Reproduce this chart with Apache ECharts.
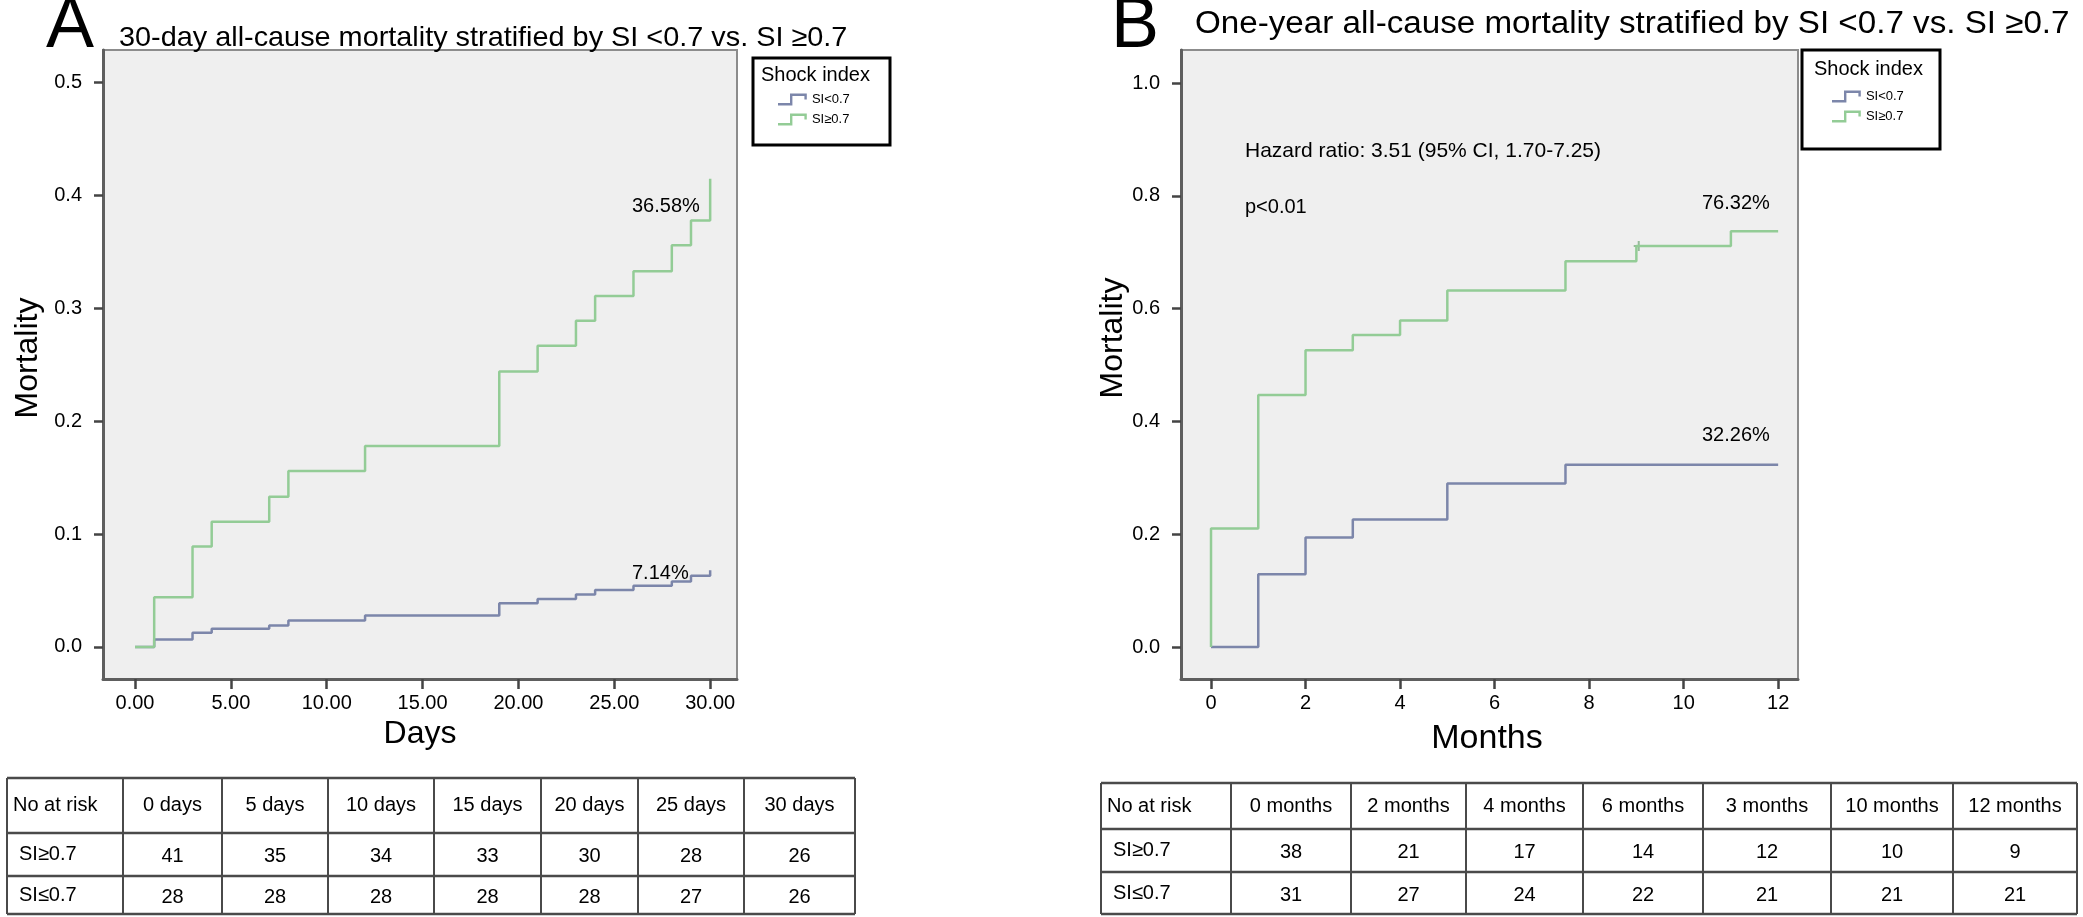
<!DOCTYPE html>
<html><head><meta charset="utf-8">
<script src="https://cdn.jsdelivr.net/npm/echarts@6/dist/echarts.min.js"></script>
<style>html,body{margin:0;padding:0;background:#fff}#c{width:2083px;height:917px}</style>
</head><body><div id="c"></div>
<script>
// ---------- data ----------
const seriesNames = ['SI<0.7', 'SI\u22650.7'];
const daysTicks = [0, 5, 10, 15, 20, 25, 30];
const monthsTicks = [0, 2, 4, 6, 8, 10, 12];
const mortTicksA = [0, 0.1, 0.2, 0.3, 0.4, 0.5];
const mortTicksB = [0, 0.2, 0.4, 0.6, 0.8, 1.0];

// Panel A: 30-day
const aDaysLow  = [0, 1, 3, 4, 7, 8, 12, 19, 21, 23, 24, 26, 28, 29, 30];
const aMortLow  = [0, 0.0065, 0.0126, 0.0161, 0.019, 0.0235, 0.0279, 0.0387, 0.0425, 0.0464, 0.0505, 0.0543, 0.058, 0.063, 0.068];
const aDaysHigh = [0, 1, 3, 4, 7, 8, 12, 19, 21, 23, 24, 26, 28, 29, 30];
const aMortHigh = [0, 0.044, 0.089, 0.111, 0.133, 0.156, 0.178, 0.244, 0.267, 0.289, 0.311, 0.333, 0.356, 0.378, 0.415];

// Panel B: one-year
const bMonthsLow  = [0, 1, 2, 3, 5, 7.5, 12];
const bMortLow    = [0, 0.129, 0.194, 0.226, 0.290, 0.323, 0.323];
const bMonthsHigh = [0, 0, 1, 2, 3, 4, 5, 7.5, 9, 11, 12];
const bMortHigh   = [0, 0.21, 0.447, 0.526, 0.553, 0.579, 0.632, 0.684, 0.711, 0.737, 0.737];
const bCensorMonths = [9.05];
const bCensorMort   = [0.711];

// annotations
const aLabelHigh = '36.58%';
const aLabelLow = '7.14%';
const bLabelHigh = '76.32%';
const bLabelLow = '32.26%';
const bHazard = 'Hazard ratio: 3.51 (95% CI, 1.70-7.25)';
const bP = 'p<0.01';

// number-at-risk tables
const tableAHeader = ['No at risk', '0 days', '5 days', '10 days', '15 days', '20 days', '25 days', '30 days'];
const tableARowNames = ['SI\u22650.7', 'SI\u22640.7'];
const tableARowHigh = [41, 35, 34, 33, 30, 28, 26];
const tableARowLow  = [28, 28, 28, 28, 28, 27, 26];
const tableBHeader = ['No at risk', '0 months', '2 months', '4 months', '6 months', '3 months', '10 months', '12 months'];
const tableBRowNames = ['SI\u22650.7', 'SI\u22640.7'];
const tableBRowHigh = [38, 21, 17, 14, 12, 10, 9];
const tableBRowLow  = [31, 27, 24, 22, 21, 21, 21];

// ---------- layout / style ----------
const FF = "'Liberation Sans', Arial, Helvetica, sans-serif";
const GREEN = '#93cc96';
const BLUE = '#7c86aa';
const zip = (xs, ys) => xs.map((x, i) => [x, ys[i]]);

const chart = echarts.init(document.getElementById('c'), null, {renderer: 'canvas'});

function makeAxes(gi, xmin, xmax, xt, xfmt, ymin, ymax, yt) {
  const x = {
    type: 'value', gridIndex: gi, min: xmin, max: xmax,
    axisLine: {show: true, onZero: false, lineStyle: {color: '#5e5e5e', width: 3}},
    axisTick: {show: true, customValues: xt, length: 10, lineStyle: {color: '#444', width: 2.5}},
    axisLabel: {customValues: xt, formatter: xfmt, color: '#000', fontSize: 20, fontFamily: FF, margin: 14},
    splitLine: {show: false}
  };
  const y = {
    type: 'value', gridIndex: gi, min: ymin, max: ymax,
    axisLine: {show: true, onZero: false, lineStyle: {color: '#5e5e5e', width: 3}},
    axisTick: {show: true, customValues: yt, length: 9, lineStyle: {color: '#444', width: 2.5}},
    axisLabel: {customValues: yt, formatter: v => v.toFixed(1), color: '#000', fontSize: 20, fontFamily: FF, margin: 21},
    splitLine: {show: false}
  };
  return [x, y];
}

const [xA, yA] = makeAxes(0, -1.67, 31.4, daysTicks, v => v.toFixed(2), -0.0284, 0.529, mortTicksA);
const [xB, yB] = makeAxes(1, -0.635, 12.42, monthsTicks, v => String(Math.round(v)), -0.0567, 1.0585, mortTicksB);

const stepPath = 'path://M0,9 H10 V1 H24 V6 H22 V3 H12 V11 H0 Z';

function txt(x, y, text, size, opts) {
  opts = opts || {};
  return {
    type: 'text', x: x, y: y, rotation: opts.rotation || 0, silent: true,
    scaleX: opts.scaleX || 1,
    style: {text: text, fill: '#000', fontSize: size, fontFamily: FF,
      align: opts.align || 'left', verticalAlign: opts.va || 'middle'}
  };
}

function table(cols, rows, header, rowNames, rowVals) {
  const els = [];
  const lc = '#4a4a4a';
  rows.forEach(r => els.push({type: 'line', silent: true, shape: {x1: cols[0], y1: r, x2: cols[cols.length - 1], y2: r}, style: {stroke: lc, lineWidth: 2.5}}));
  cols.forEach(c => els.push({type: 'line', silent: true, shape: {x1: c, y1: rows[0], x2: c, y2: rows[rows.length - 1]}, style: {stroke: lc, lineWidth: 2}}));
  const cy = i => (rows[i] + rows[i + 1]) / 2;
  header.forEach((h, j) => {
    if (j === 0) els.push(txt(cols[0] + 6, cy(0), h, 20));
    else els.push(txt((cols[j] + cols[j + 1]) / 2, cy(0), h, 20, {align: 'center'}));
  });
  rowVals.forEach((vals, i) => {
    els.push(txt(cols[0] + 12, cy(i + 1), rowNames[i], 20));
    vals.forEach((v, j) => els.push(txt((cols[j + 1] + cols[j + 2]) / 2, cy(i + 1) + 2, String(v), 20, {align: 'center'})));
  });
  return els;
}

function legendBox(x, y, w, h, titleX, titleY) {
  return [
    {type: 'rect', silent: true, shape: {x: x, y: y, width: w, height: h}, style: {fill: '#fff', stroke: '#000', lineWidth: 3}, z: -1},
    txt(titleX, titleY, 'Shock index', 20)
  ];
}

const graphics = [].concat(
  legendBox(753, 58, 137, 87, 761, 75),
  legendBox(1802, 50, 138, 99, 1814, 69),
  [txt(46, 27, 'A', 72), txt(119, 38, '30-day all-cause mortality stratified by SI <0.7 vs. SI \u22650.7', 28, {scaleX: 1.03})],
  [txt(1111, 27, 'B', 72), txt(1195, 24, 'One-year all-cause mortality stratified by SI <0.7 vs. SI \u22650.7', 31, {scaleX: 1.07})],
  [txt(28, 358, 'Mortality', 32, {rotation: Math.PI / 2, align: 'center'}),
   txt(420, 734, 'Days', 32, {align: 'center'}),
   txt(1113, 338, 'Mortality', 32, {rotation: Math.PI / 2, align: 'center'}),
   txt(1487, 739, 'Months', 34, {align: 'center'}),
   txt(632, 206, aLabelHigh, 20), txt(632, 573, aLabelLow, 20),
   txt(1702, 203, bLabelHigh, 20), txt(1702, 435, bLabelLow, 20),
   txt(1245, 151, bHazard, 21), txt(1245, 207, bP, 20)],
  table([7, 123, 222, 328, 434, 541, 638, 744, 855], [778, 833, 876, 914], tableAHeader, tableARowNames, [tableARowHigh, tableARowLow]),
  table([1101, 1231, 1351, 1466, 1583, 1703, 1831, 1953, 2077], [783, 829, 872, 914], tableBHeader, tableBRowNames, [tableBRowHigh, tableBRowLow])
);

function legendCfg(left, top) {
  return {
    data: seriesNames, orient: 'vertical', left: left, top: top, itemWidth: 33, itemHeight: 12, itemGap: 7,
    icon: stepPath, selectedMode: false, padding: 0,
    textStyle: {fontSize: 13, fontFamily: FF, color: '#000', padding: [0, 0, 0, -2]}
  };
}

const option = {
  animation: false,
  backgroundColor: '#fff',
  grid: [
    {left: 103, top: 50, width: 634, height: 629, show: true, backgroundColor: '#efefef', borderColor: '#8c8c8c', borderWidth: 2},
    {left: 1181, top: 50, width: 617, height: 629, show: true, backgroundColor: '#efefef', borderColor: '#8c8c8c', borderWidth: 2}
  ],
  xAxis: [xA, xB],
  yAxis: [yA, yB],
  legend: [legendCfg(778, 93), legendCfg(1832, 90)],
  series: [
    {name: seriesNames[0], type: 'line', xAxisIndex: 0, yAxisIndex: 0, step: 'end', showSymbol: false, data: zip(aDaysLow, aMortLow), lineStyle: {color: BLUE, width: 2.5}, itemStyle: {color: BLUE}},
    {name: seriesNames[1], type: 'line', xAxisIndex: 0, yAxisIndex: 0, step: 'end', showSymbol: false, data: zip(aDaysHigh, aMortHigh), lineStyle: {color: GREEN, width: 2.5}, itemStyle: {color: GREEN}},
    {name: seriesNames[0], type: 'line', xAxisIndex: 1, yAxisIndex: 1, step: 'end', showSymbol: false, data: zip(bMonthsLow, bMortLow), lineStyle: {color: BLUE, width: 2.5}, itemStyle: {color: BLUE}},
    {name: seriesNames[1], type: 'line', xAxisIndex: 1, yAxisIndex: 1, step: 'end', showSymbol: false, data: zip(bMonthsHigh, bMortHigh), lineStyle: {color: GREEN, width: 2.5}, itemStyle: {color: GREEN}},
    {name: 'censored', type: 'scatter', xAxisIndex: 1, yAxisIndex: 1, data: zip(bCensorMonths, bCensorMort), symbol: 'path://M4,0 H6 V4 H10 V6 H6 V10 H4 V6 H0 V4 H4 Z', symbolSize: 10, itemStyle: {color: '#7fae84'}, silent: true}
  ],
  graphic: graphics
};
chart.setOption(option);
</script></body></html>
